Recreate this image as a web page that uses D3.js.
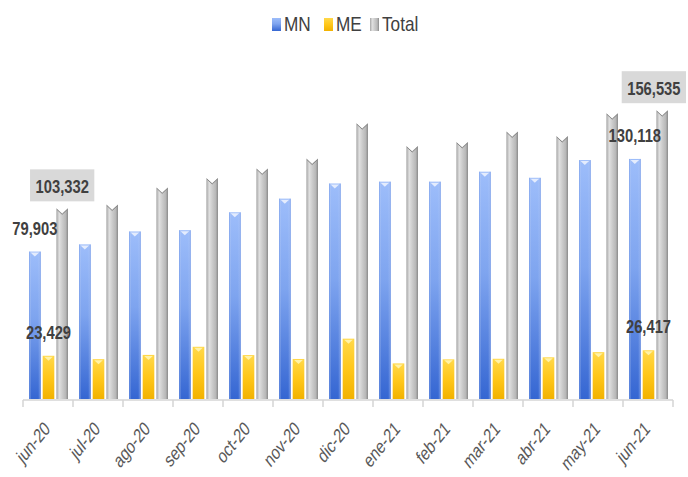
<!DOCTYPE html>
<html>
<head>
<meta charset="utf-8">
<script src="https://cdn.jsdelivr.net/npm/d3@7/dist/d3.min.js"></script>
<style>
  html, body { margin: 0; padding: 0; background: #ffffff; }
  svg { display: block; }
  text { font-family: "Liberation Sans", Arial, sans-serif; }
</style>
</head>
<body>
<svg id="chart" width="688" height="477"></svg>
<script>
// Monthly counts by currency: MN, ME and their total
const months = ["jun-20", "jul-20", "ago-20", "sep-20", "oct-20", "nov-20", "dic-20",
                "ene-21", "feb-21", "mar-21", "abr-21", "may-21", "jun-21"];
const seriesNames = ["MN", "ME", "Total"];
const mnValues = [79903, 83800, 90800, 91500, 101200, 108600, 116800,
                  117800, 117800, 123200, 119900, 129500, 130118];
const meValues = [23429, 21600, 23900, 28300, 23800, 21700, 32700,
                  19300, 21500, 21800, 22600, 25400, 26417];
const totalValues = [103332, 105400, 114700, 119800, 125000, 130300, 149500,
                     137100, 139300, 145000, 142500, 154900, 156535];
// Months whose values are printed on the chart
const labelledMonths = ["jun-20", "jun-21"];

const svg = d3.select("#chart");
const W = 688;
const baseY = 399;
const narrow = 0.82; // horizontal squeeze that gives the narrow face

const x = d3.scaleBand().domain(months).range([23, 673]).paddingInner(0).paddingOuter(0);
const xs = d3.scaleBand().domain(seriesNames).range([6, 45]).paddingInner(0.15).paddingOuter(0);
const y = d3.scaleLinear().domain([0, 180000]).range([baseY, baseY - 180 * 1.845]);

const rows = months.map((m, i) => ({ month: m, MN: mnValues[i], ME: meValues[i], Total: totalValues[i] }));

// Gradients for the bar fills
const defs = svg.append("defs");
function vGrad(id, stops) {
  const g = defs.append("linearGradient").attr("id", id).attr("x1", 0).attr("y1", 0).attr("x2", 0).attr("y2", 1);
  stops.forEach(s => g.append("stop").attr("offset", s[0]).attr("stop-color", s[1]));
}
function hGrad(id, stops) {
  const g = defs.append("linearGradient").attr("id", id).attr("x1", 0).attr("y1", 0).attr("x2", 1).attr("y2", 0);
  stops.forEach(s => g.append("stop").attr("offset", s[0]).attr("stop-color", s[1]));
}
vGrad("gMN", [[0, "#9dbdfa"], [0.45, "#7ea4ef"], [1, "#3566d2"]]);
vGrad("gME", [[0, "#ffd84a"], [0.5, "#ffc71a"], [1, "#f2b200"]]);
hGrad("gTotal", [[0, "#a5a5a5"], [0.25, "#e0e0e0"], [0.55, "#c9c9c9"], [0.8, "#b8b8b8"], [1, "#8a8a8a"]]);
hGrad("gMNedge", [[0, "#5b86e0"], [0.2, "rgba(255,255,255,0)"], [0.8, "rgba(255,255,255,0)"], [1, "#4a78db"]]);

const fills = { MN: "url(#gMN)", ME: "url(#gME)", Total: "url(#gTotal)" };
const capFills = { MN: "#e4ecfd", ME: "#fff2a8" };

// Axis line and category separators
const axis = svg.append("g").attr("transform", `translate(0,${baseY + 1})`);
axis.append("line").attr("x1", 23).attr("x2", 673).attr("y1", 0).attr("y2", 0)
  .attr("stroke", "#d4d4d4").attr("stroke-width", 1.5);
const bounds = months.map(m => x(m)).concat([x(months[months.length - 1]) + x.bandwidth()]);
axis.selectAll("line.sep").data(bounds).join("line").attr("class", "sep")
  .attr("x1", d => d).attr("x2", d => d).attr("y1", 0).attr("y2", 7)
  .attr("stroke", "#d4d4d4").attr("stroke-width", 1.5);

// Bars
const groups = svg.append("g").selectAll("g.month").data(rows).join("g")
  .attr("class", "month").attr("transform", d => `translate(${x(d.month)},0)`);

groups.each(function (d) {
  const g = d3.select(this);
  seriesNames.forEach(s => {
    const x0 = xs(s), w = xs.bandwidth(), top = y(d[s]);
    if (s === "Total") {
      // column with a notched top edge
      const notch = 5;
      g.append("path")
        .attr("d", `M${x0},${baseY} L${x0},${top} L${x0 + w / 2},${top + notch} L${x0 + w},${top} L${x0 + w},${baseY} Z`)
        .attr("fill", fills[s]);
      g.append("path")
        .attr("d", `M${x0 + 0.5},${top + 1} L${x0 + w / 2},${top + notch + 1} L${x0 + w - 0.5},${top + 1}`)
        .attr("fill", "none").attr("stroke", "#8a8a8a").attr("stroke-width", 1);
    } else {
      g.append("rect").attr("x", x0).attr("y", top).attr("width", w).attr("height", baseY - top)
        .attr("fill", fills[s]);
      if (s === "MN") {
        g.append("rect").attr("x", x0).attr("y", top).attr("width", w).attr("height", baseY - top)
          .attr("fill", "url(#gMNedge)").attr("opacity", 0.6);
      }
      g.append("path")
        .attr("d", `M${x0 + 1.5},${top + 1} L${x0 + w - 1.5},${top + 1} L${x0 + w / 2},${top + 5} Z`)
        .attr("fill", capFills[s]);
    }
  });
});

// narrow text: a group placed at (px, py) and squeezed horizontally
function narrowText(parent, px, py, str, opts) {
  const g = parent.append("g").attr("transform", `translate(${px},${py}) scale(${narrow},1)`);
  const t = g.append("text").attr("x", 0).attr("y", 0)
    .attr("text-anchor", opts.anchor || "start")
    .attr("font-size", opts.size).attr("font-weight", opts.weight || "normal")
    .attr("fill", opts.fill).text(str);
  return { g, t, width: t.node().getComputedTextLength() * narrow };
}

// Value labels for the first and last month
const labelFont = 18;
const fmt = d3.format(",");
const labelLayer = svg.append("g");
rows.filter(d => labelledMonths.includes(d.month)).forEach(d => {
  const gx = x(d.month);
  ["MN", "ME"].forEach(s => {
    const cx = gx + xs(s) + xs.bandwidth() / 2;
    narrowText(labelLayer, cx, y(d[s]) - 17, fmt(d[s]),
      { anchor: "middle", size: labelFont, weight: "bold", fill: "#404040" });
  });
  // total label sits in a grey box
  const cxBar = gx + xs("Total") + xs.bandwidth() / 2;
  const box = labelLayer.append("rect");
  const lab = narrowText(labelLayer, cxBar, y(d.Total) - 15, fmt(d.Total),
    { anchor: "middle", size: labelFont, weight: "bold", fill: "#404040" });
  const boxW = lab.width + 11;
  const cx = Math.min(cxBar, W - 2 - boxW / 2);
  lab.g.attr("transform", `translate(${cx},${y(d.Total) - 15}) scale(${narrow},1)`);
  box.attr("x", cx - boxW / 2).attr("y", y(d.Total) - 39).attr("width", boxW).attr("height", 32)
    .attr("fill", "#d9d9d9");
});

// Category labels, slanted and drawn tall
svg.append("g").selectAll("text.cat").data(months).join("text").attr("class", "cat")
  .attr("transform", m => `translate(${x(m) + x.bandwidth() / 2 + 3},${baseY + 31}) scale(1,1.25) rotate(-45) scale(0.88,1)`)
  .attr("text-anchor", "end").attr("font-size", 16).attr("fill", "#595959").text(m => m);

// Legend
const legend = svg.append("g");
const legendItems = [
  { name: "MN", fill: "url(#gMN)", x: 272 },
  { name: "ME", fill: "url(#gME)", x: 324 },
  { name: "Total", fill: "url(#gTotal)", x: 370 }
];
legendItems.forEach(it => {
  legend.append("rect").attr("x", it.x).attr("y", 18).attr("width", 9).attr("height", 13).attr("fill", it.fill);
  narrowText(legend, it.x + 12, 31, it.name, { size: 21, fill: "#404040" });
});
</script>
</body>
</html>
